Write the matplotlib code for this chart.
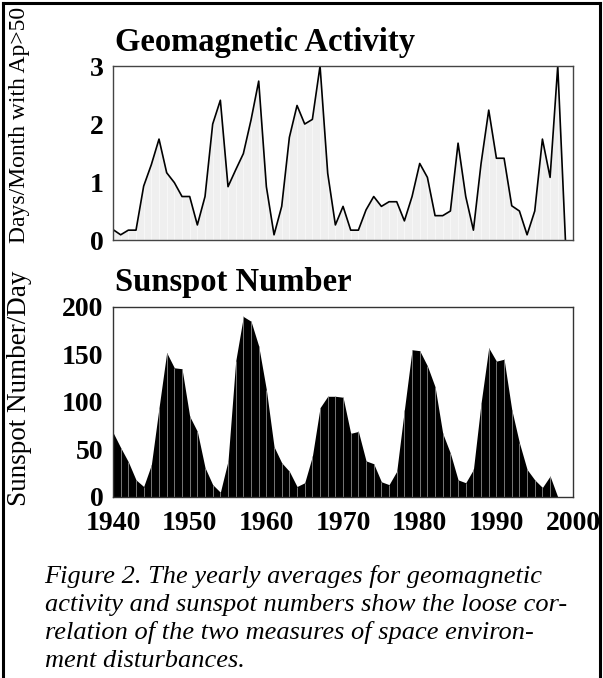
import matplotlib
matplotlib.use('Agg')
import matplotlib.pyplot as plt
from matplotlib.lines import Line2D
import numpy as np

# Jahre 1940..1999
years = np.arange(1940, 2000)

# Geomagnetic activity: days/month with Ap > 50
ap_days = [0.18, 0.09, 0.17, 0.17, 0.93, 1.30, 1.74, 1.16, 0.99, 0.75,
           0.75, 0.26, 0.75, 2.00, 2.41, 0.92, 1.21, 1.49, 2.07, 2.74,
           0.92, 0.09, 0.58, 1.77, 2.32, 2.00, 2.08, 3.00, 1.15, 0.26,
           0.58, 0.17, 0.17, 0.52, 0.75, 0.58, 0.66, 0.66, 0.33, 0.75,
           1.32, 1.08, 0.42, 0.42, 0.50, 1.67, 0.75, 0.17, 1.32, 2.24,
           1.41, 1.41, 0.59, 0.50, 0.09, 0.50, 1.74, 1.08, 3.00, 0.00]

# Sunspot number (yearly mean)
sunspots = [68, 52, 37, 18, 11, 34, 94, 152, 136, 135,
            85, 69, 31, 13, 5, 38, 143, 190, 185, 159,
            113, 53, 36, 27, 11, 15, 43, 94, 106, 106,
            105, 67, 69, 38, 35, 16, 13, 27, 92, 155,
            154, 138, 116, 67, 46, 18, 15, 29, 99, 157,
            143, 145, 92, 57, 29, 18, 10, 22, 0, 0]

top_ticks = [0, 1, 2, 3]
bot_ticks = [0, 50, 100, 150, 200]
x_ticks = [1940, 1950, 1960, 1970, 1980, 1990, 2000]

plt.rcParams['font.family'] = 'Liberation Serif'

fig = plt.figure(figsize=(6.03, 6.78), dpi=100)

# Rahmen um die ganze Abbildung
for xs, ys in [([0.005, 0.005], [0, 0.996]), ([0.995, 0.995], [0, 0.996]),
               ([0.005, 0.995], [0.996, 0.996])]:
    fig.add_artist(Line2D(xs, ys, color='black', lw=2.2))

# --- Geomagnetic Activity ---
ax1 = fig.add_axes([0.1874, 0.646, 0.763, 0.2566])
ax1.fill_between(years, ap_days, 0, color='#efefef', lw=0)
ax1.vlines(years[1:-1], 0, ap_days[1:-1], color='#f9f9f9', lw=0.6)
ax1.plot(years, ap_days, color='black', lw=1.2)
ax1.set_xlim(1940, 2000)
ax1.set_ylim(0, 3)
ax1.set_xticks([])
ax1.set_yticks(top_ticks)
ax1.tick_params(axis='y', length=0, pad=7, labelsize=20)
for lab in ax1.get_yticklabels():
    lab.set_fontweight('bold')
for s in ax1.spines.values():
    s.set_color('#444444')
    s.set_linewidth(1.0)

# --- Sunspot Number ---
ax2 = fig.add_axes([0.1874, 0.267, 0.763, 0.2802])
ax2.fill_between(years, sunspots, 0, color='black', lw=0)
ax2.vlines(years[1:-1], 0, sunspots[1:-1], color='#8a8a8a', lw=0.6)
ax2.set_xlim(1940, 2000)
ax2.set_ylim(0, 200)
ax2.set_xticks(x_ticks)
ax2.set_yticks(bot_ticks)
ax2.tick_params(axis='both', length=0)
ax2.tick_params(axis='y', pad=7, labelsize=20)
ax2.tick_params(axis='x', pad=10, labelsize=20)
for lab in ax2.get_yticklabels() + ax2.get_xticklabels():
    lab.set_fontweight('bold')
for s in ax2.spines.values():
    s.set_color('#333333')
    s.set_linewidth(1.0)

# Titel und Achsenbeschriftungen
fig.text(0.191, 0.937, 'Geomagnetic Activity', fontsize=23.5, fontweight='bold',
         va='center', ha='left')
fig.text(0.191, 0.583, 'Sunspot Number', fontsize=23.5, fontweight='bold',
         va='center', ha='left')
fig.text(0.033, 0.815, 'Days/Month with Ap>50', fontsize=17, rotation=90,
         va='center', ha='center')
fig.text(0.032, 0.428, 'Sunspot Number/Day', fontsize=19.5, rotation=90,
         va='center', ha='center')

# Bildunterschrift
caption = ['Figure 2. The yearly averages for geomagnetic',
           'activity and sunspot numbers show the loose cor-',
           'relation of the two measures of space environ-',
           'ment disturbances.']
for k, line in enumerate(caption):
    fig.text(0.074, 0.149 - k * 0.0413, line, fontsize=19, style='italic',
             va='center', ha='left')

fig.savefig('out.png', dpi=100)
